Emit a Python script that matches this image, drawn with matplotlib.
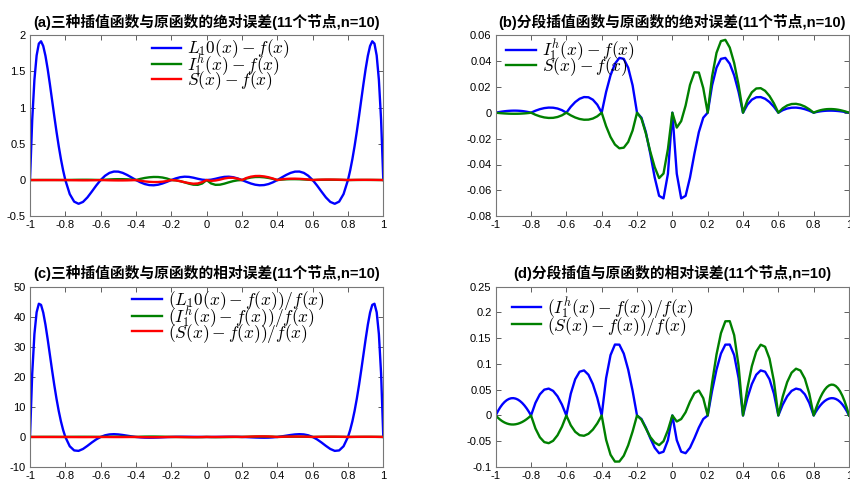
import numpy as np
import matplotlib
matplotlib.use("Agg")
import matplotlib.pyplot as plt
from matplotlib.ticker import FixedLocator, FixedFormatter

plt.rcParams['font.family'] = ['Liberation Sans', 'Noto Sans CJK SC', 'DejaVu Sans']
plt.rcParams['mathtext.fontset'] = 'cm'
plt.rcParams['axes.unicode_minus'] = False

# sample grid: finer near the ends where the Lagrange error is steep
x = np.concatenate([np.linspace(-1.0, -0.8, 17)[:-1],
                    np.linspace(-0.8, 0.8, 65)[:-1],
                    np.linspace(0.8, 1.0, 17)])

# L10(x) - f(x)
err_L = [
    0, 0.828684, 1.38275, 1.71774, 1.88118, 1.91324, 1.84772, 1.71283, 1.53165, 1.32305, 1.10201, 0.880343, 0.666990, 0.468537, 0.289528, 0.132853,
    0, -0.193624, -0.297852, -0.327595, -0.301665, -0.239520, -0.159089, -0.075422,
    0, 0.059454, 0.098802, 0.117064, 0.115824, 0.098573, 0.070020, 0.035421,
    0, -0.031572, -0.055573, -0.069521, -0.072345, -0.064442, -0.047602, -0.024829,
    0, 0.022609, 0.038989, 0.046227, 0.043407, 0.032313, 0.017450, 0.004898,
    0, 0.004898, 0.017450, 0.032313, 0.043407, 0.046227, 0.038989, 0.022609,
    0, -0.024829, -0.047602, -0.064442, -0.072345, -0.069521, -0.055573, -0.031572,
    0, 0.035421, 0.070020, 0.098573, 0.115824, 0.117064, 0.098802, 0.059454,
    0, -0.075422, -0.159089, -0.239520, -0.301665, -0.327595, -0.297852, -0.193624,
    0, 0.132853, 0.289528, 0.468537, 0.666990, 0.880343, 1.10201, 1.32305, 1.53165, 1.71283, 1.84772, 1.91324, 1.88118, 1.71774, 1.38275, 0.828684,
    0,
]

# (L10(x) - f(x)) / f(x)
rel_L = [
    0, 21.0310, 34.2444, 41.5011, 44.3252, 43.9522, 41.3722, 37.3677, 32.5476, 27.3754, 22.1951, 17.2525, 12.7145, 8.68433, 5.21607, 2.32544,
    0, -3.10101, -4.48638, -4.63241, -3.99707, -2.96781, -1.83947, -0.811966,
    0, 0.550881, 0.845996, 0.923700, 0.839721, 0.654590, 0.424495, 0.195371,
    0, -0.142568, -0.225764, -0.253098, -0.235121, -0.186276, -0.121981, -0.056252,
    0, 0.039919, 0.060921, 0.064285, 0.054259, 0.036857, 0.018541, 0.004975,
    0, 0.004975, 0.018541, 0.036857, 0.054259, 0.064285, 0.060921, 0.039919,
    0, -0.056252, -0.121981, -0.186276, -0.235121, -0.253098, -0.225764, -0.142568,
    0, 0.195371, 0.424495, 0.654590, 0.839721, 0.923700, 0.845996, 0.550881,
    0, -0.811966, -1.83947, -2.96781, -3.99707, -4.63241, -4.48638, -3.10101,
    0, 2.32544, 5.21607, 8.68433, 12.7145, 17.2525, 22.1951, 27.3754, 32.5476, 37.3677, 41.3722, 43.9522, 44.3252, 41.5011, 34.2444, 21.0310,
    0,
]

# piecewise linear I_1^h(x) - f(x)
err_I = [
    0, 0.000331, 0.000628, 0.000889, 0.001112, 0.001295, 0.001436, 0.001533, 0.001584, 0.001585, 0.001537, 0.001433, 0.001274, 0.001054, 0.000771, 0.000421,
    0, 0.001532, 0.002728, 0.003547, 0.003940, 0.003853, 0.003220, 0.001965,
    0, 0.004574, 0.008212, 0.010767, 0.012069, 0.011912, 0.010052, 0.006197,
    0, 0.016047, 0.028846, 0.037822, 0.042308, 0.041554, 0.034756, 0.021121,
    0, -0.003872, -0.015, -0.031601, -0.05, -0.064212, -0.066176, -0.047115,
    0, -0.047115, -0.066176, -0.064212, -0.05, -0.031601, -0.015, -0.003872,
    0, 0.021121, 0.034756, 0.041554, 0.042308, 0.037822, 0.028846, 0.016047,
    0, 0.006197, 0.010052, 0.011912, 0.012069, 0.010767, 0.008212, 0.004574,
    0, 0.001965, 0.003220, 0.003853, 0.003940, 0.003547, 0.002728, 0.001532,
    0, 0.000421, 0.000771, 0.001054, 0.001274, 0.001433, 0.001537, 0.001585, 0.001584, 0.001533, 0.001436, 0.001295, 0.001112, 0.000889, 0.000628, 0.000331,
    0,
]

rel_I = [
    0, 0.008408, 0.015556, 0.021474, 0.026194, 0.029740, 0.032148, 0.033442, 0.033653, 0.032816, 0.030954, 0.028101, 0.024285, 0.019539, 0.013889, 0.007366,
    0, 0.024535, 0.041090, 0.050153, 0.052209, 0.047738, 0.037226, 0.021153,
    0, 0.042383, 0.070313, 0.084961, 0.0875, 0.079102, 0.060938, 0.034180,
    0, 0.072461, 0.117188, 0.137695, 0.1375, 0.120117, 0.089063, 0.047852,
    0, -0.006836, -0.023438, -0.043945, -0.0625, -0.073242, -0.070313, -0.047852,
    0, -0.047852, -0.070313, -0.073242, -0.0625, -0.043945, -0.023438, -0.006836,
    0, 0.047852, 0.089063, 0.120117, 0.1375, 0.137695, 0.117188, 0.072461,
    0, 0.034180, 0.060938, 0.079102, 0.0875, 0.084961, 0.070313, 0.042383,
    0, 0.021153, 0.037226, 0.047738, 0.052209, 0.050153, 0.041090, 0.024535,
    0, 0.007366, 0.013889, 0.019539, 0.024285, 0.028101, 0.030954, 0.032816, 0.033653, 0.033442, 0.032148, 0.029740, 0.026194, 0.021474, 0.015556, 0.008408,
    0,
]

# spline S(x) - f(x)
err_S = [
    0, -0.00017, -0.00033, -0.00046, -0.00058, -0.00067, -0.00075, -0.00080, -0.00082, -0.00082, -0.00080, -0.00075, -0.00066, -0.00055, -0.00040, -0.00022,
    0, -0.00158, -0.00281, -0.00365, -0.00406, -0.00397, -0.00332, -0.00202,
    0, -0.00206, -0.00370, -0.00485, -0.00543, -0.00536, -0.00452, -0.00279,
    0, -0.01043, -0.01875, -0.02458, -0.02750, -0.02701, -0.02259, -0.01373,
    0, -0.0045, -0.016, -0.030, -0.042, -0.0505, -0.047, -0.028,
    0, -0.0115, -0.0065, 0.0055, 0.0215, 0.0312, 0.0310, 0.0190,
    0, 0.02809, 0.04623, 0.05527, 0.05627, 0.05030, 0.03837, 0.02134,
    0, 0.00973, 0.01578, 0.01870, 0.01895, 0.01690, 0.01289, 0.00718,
    0, 0.00342, 0.00560, 0.00670, 0.00686, 0.00617, 0.00475, 0.00267,
    0, 0.00075, 0.00137, 0.00188, 0.00227, 0.00255, 0.00274, 0.00282, 0.00282, 0.00273, 0.00256, 0.00231, 0.00198, 0.00158, 0.00112, 0.00059,
    0,
]

rel_S = [
    0, -0.00437, -0.00809, -0.01117, -0.01362, -0.01546, -0.01672, -0.01739, -0.01750, -0.01706, -0.01610, -0.01461, -0.01263, -0.01016, -0.00722, -0.00383,
    0, -0.02527, -0.04232, -0.05166, -0.05378, -0.04917, -0.03834, -0.02179,
    0, -0.01907, -0.03164, -0.03823, -0.03938, -0.03560, -0.02742, -0.01538,
    0, -0.04710, -0.07617, -0.08950, -0.08938, -0.07808, -0.05789, -0.03110,
    0, -0.00795, -0.0250, -0.04172, -0.0525, -0.0576, -0.04994, -0.02844,
    0, -0.01168, -0.00691, 0.00627, 0.02688, 0.04339, 0.04844, 0.03355,
    0, 0.06364, 0.11845, 0.15976, 0.18288, 0.18313, 0.15586, 0.09637,
    0, 0.05366, 0.09567, 0.12419, 0.13738, 0.13339, 0.11039, 0.06654,
    0, 0.03681, 0.06477, 0.08306, 0.09084, 0.08727, 0.07150, 0.04269,
    0, 0.01311, 0.02472, 0.03478, 0.04323, 0.05002, 0.05510, 0.05841, 0.05990, 0.05953, 0.05722, 0.05294, 0.04663, 0.03822, 0.02769, 0.01497,
    0,
]

titles = [
    "(a)三种插值函数与原函数的绝对误差(11个节点,n=10)",
    "(b)分段插值函数与原函数的绝对误差(11个节点,n=10)",
    "(c)三种插值函数与原函数的相对误差(11个节点,n=10)",
    "(d)分段插值与原函数的相对误差(11个节点,n=10)",
]
x_ticks = [-1, -0.8, -0.6, -0.4, -0.2, 0, 0.2, 0.4, 0.6, 0.8, 1]
y_ticks = [
    [-0.5, 0, 0.5, 1, 1.5, 2],
    [-0.08, -0.06, -0.04, -0.02, 0, 0.02, 0.04, 0.06],
    [-10, 0, 10, 20, 30, 40, 50],
    [-0.1, -0.05, 0, 0.05, 0.1, 0.15, 0.2, 0.25],
]

BLUE, GREEN, RED = (0, 0, 1), (0, 0.5, 0), (1, 0, 0)

fig = plt.figure(figsize=(8.5, 4.8), dpi=100)
W, H = 850.0, 480.0
boxes = [(30, 35, 383.3, 216.3), (495.7, 35, 849, 216.3),
         (30, 286.7, 383.3, 467), (495.7, 286.7, 849, 467)]
axes = []
for (l, t, r, b) in boxes:
    axes.append(fig.add_axes([l / W, 1 - b / H, (r - l) / W, (b - t) / H]))


def fmt(v):
    return ('%g' % v)


def style(ax, yt, title):
    ax.set_xlim(-1, 1)
    ax.set_ylim(yt[0], yt[-1])
    ax.xaxis.set_major_locator(FixedLocator(x_ticks))
    ax.xaxis.set_major_formatter(FixedFormatter([fmt(v) for v in x_ticks]))
    ax.yaxis.set_major_locator(FixedLocator(yt))
    ax.yaxis.set_major_formatter(FixedFormatter([fmt(v) for v in yt]))
    ax.tick_params(direction='in', length=3.5, width=0.6, labelsize=8,
                   top=True, right=True, pad=3, colors='#444444', labelcolor='black')
    for s in ax.spines.values():
        s.set_color('#777777')
        s.set_linewidth(0.8)
    ax.set_title(title, fontsize=10.6, fontweight='bold', pad=6)


lw = 1.7
leg_kw = dict(frameon=False, fontsize=12.5, handlelength=1.7, handletextpad=0.35,
              labelspacing=-0.48, borderpad=0, borderaxespad=0, loc='upper left')

ax = axes[0]
ax.plot(x, err_L, color=BLUE, lw=lw, label=r'$L_10(x)-f(x)$')
ax.plot(x, err_I, color=GREEN, lw=lw, label=r'$I^h_1(x)-f(x)$')
ax.plot(x, err_S, color=RED, lw=lw, label=r'$S(x)-f(x)$')
style(ax, y_ticks[0], titles[0])
ax.legend(bbox_to_anchor=(0.345, 0.985), **leg_kw)

ax = axes[1]
ax.plot(x, err_I, color=BLUE, lw=lw, label=r'$I^h_1(x)-f(x)$')
ax.plot(x, err_S, color=GREEN, lw=lw, label=r'$S(x)-f(x)$')
style(ax, y_ticks[1], titles[1])
ax.legend(bbox_to_anchor=(0.03, 0.985), **leg_kw)

ax = axes[2]
ax.plot(x, rel_L, color=BLUE, lw=lw, label=r'$(L_10(x)-f(x))/f(x)$')
ax.plot(x, rel_I, color=GREEN, lw=lw, label=r'$(I^h_1(x)-f(x))/f(x)$')
ax.plot(x, rel_S, color=RED, lw=lw, label=r'$(S(x)-f(x))/f(x)$')
style(ax, y_ticks[2], titles[2])
ax.legend(bbox_to_anchor=(0.29, 0.985), **leg_kw)

ax = axes[3]
ax.plot(x, rel_I, color=BLUE, lw=lw, label=r'$(I^h_1(x)-f(x))/f(x)$')
ax.plot(x, rel_S, color=GREEN, lw=lw, label=r'$(S(x)-f(x))/f(x)$')
style(ax, y_ticks[3], titles[3])
ax.legend(bbox_to_anchor=(0.045, 0.955), labelspacing=-0.35,
          **{k: v for k, v in leg_kw.items() if k != 'labelspacing'})

fig.savefig('out.png', dpi=100)
